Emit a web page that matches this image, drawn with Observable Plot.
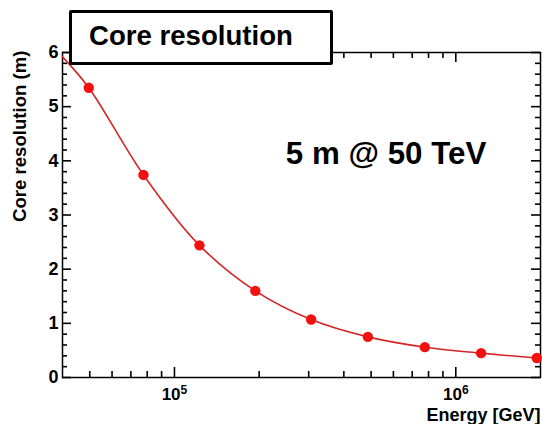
<!DOCTYPE html>
<html>
<head>
<meta charset="utf-8">
<script src="https://cdn.jsdelivr.net/npm/d3@7"></script>
<script src="https://cdn.jsdelivr.net/npm/@observablehq/plot@0.6"></script>
<style>
  body { margin: 0; background: #fff; }
  #wrap { position: relative; width: 542px; height: 424px; font-family: "Liberation Sans", Arial, Helvetica, sans-serif; }
  #title {
    position: absolute; left: 69px; top: 10px; width: 241px; height: 49px;
    padding-left: 17px; border: 3px solid #000; border-radius: 2px; background: #fff;
    font-weight: bold; font-size: 27.6px; line-height: 45px; color: #000; white-space: nowrap;
  }
</style>
</head>
<body>
<div id="wrap">
  <div id="chart"></div>
  <div id="title">Core resolution</div>
</div>
<script>
// Reconstructed shower core resolution versus primary energy
const energy = [49600, 77600, 122700, 193800, 306000, 487000, 776000, 1230000, 1940000];
const resolution = [5.35, 3.74, 2.44, 1.60, 1.07, 0.75, 0.56, 0.45, 0.36];

// Smooth curve through the points, starting at the low-energy edge
const curveEnergy = [40000, ...energy];
const curveResolution = [5.92, ...resolution];

// Axis ranges and ticks
const xRange = [40000, 2000000];
const yRange = [0, 6];
const yMajor = [0, 1, 2, 3, 4, 5, 6];
const yLabels = ["0", "1", "2", "3", "4", "5", "6"];
const yMinor = d3.range(0, 6.001, 0.2).filter(v => Math.abs(v - Math.round(v)) > 1e-6);
const xMajor = [1e5, 1e6];
const xLabelBase = "10";
const xLabelExp = ["5", "6"];
const xMinor = [5e4, 6e4, 7e4, 8e4, 9e4, 2e5, 3e5, 4e5, 5e5, 6e5, 7e5, 8e5, 9e5];

const annotation = "5 m @ 50 TeV";
const xTitle = "Energy [GeV]";
const yTitle = "Core resolution (m)";

const points = energy.map((e, i) => ({energy: e, resolution: resolution[i]}));
const curve = curveEnergy.map((e, i) => ({energy: e, resolution: curveResolution[i]}));

const font = '"Liberation Sans", Arial, Helvetica, sans-serif';
const tickStyle = {stroke: "black", strokeWidth: 1.6};

// inward tick marks: zero-length rules on a frame edge, stretched by an inset
const ticksBottom = (values, len) => Plot.ruleX(values, {x: d => d, y1: yRange[0], y2: yRange[0], insetBottom: len, ...tickStyle});
const ticksTop = (values, len) => Plot.ruleX(values, {x: d => d, y1: yRange[1], y2: yRange[1], insetTop: len, ...tickStyle});
const ticksLeft = (values, len) => Plot.ruleY(values, {y: d => d, x1: xRange[0], x2: xRange[0], insetLeft: len, ...tickStyle});
const ticksRight = (values, len) => Plot.ruleY(values, {y: d => d, x1: xRange[1], x2: xRange[1], insetRight: len, ...tickStyle});

const chart = Plot.plot({
  width: 542,
  height: 424,
  marginLeft: 62,
  marginRight: 2,
  marginTop: 52,
  marginBottom: 47,
  style: {fontFamily: font, background: "white", color: "black", overflow: "visible"},
  x: {type: "log", domain: xRange},
  y: {domain: yRange},
  marks: [
    Plot.frame({stroke: "black", strokeWidth: 1.5}),
    ticksBottom(xMajor, 10), ticksBottom(xMinor, 6),
    ticksTop(xMajor, 10), ticksTop(xMinor, 6),
    ticksLeft(yMajor, 9), ticksLeft(yMinor, 5),
    ticksRight(yMajor, 9), ticksRight(yMinor, 5),
    // tick labels
    Plot.axisX({anchor: "bottom", ticks: xMajor, tickSize: 0, tickPadding: 10, label: null,
      tickFormat: d => xLabelBase + "^" + xLabelExp[xMajor.indexOf(d)], fontSize: 17, fontWeight: "bold"}),
    Plot.axisY({anchor: "left", ticks: yMajor, tickSize: 0, tickPadding: 4, label: null,
      tickFormat: d => yLabels[yMajor.indexOf(d)], fontSize: 18, fontWeight: "bold"}),
    // axis titles
    Plot.text([yTitle], {frameAnchor: "top-left", rotate: -90, textAnchor: "end", lineAnchor: "middle",
      dx: -42, dy: -2, fontSize: 18.6, fontWeight: "bold"}),
    Plot.text([xTitle], {frameAnchor: "bottom-right", textAnchor: "end", lineAnchor: "bottom",
      dy: 43, fontSize: 18, fontWeight: "bold"}),
    // data
    Plot.line(curve, {x: "energy", y: "resolution", curve: "catmull-rom", stroke: "#d42424", strokeWidth: 1.6}),
    Plot.dot(points, {x: "energy", y: "resolution", r: 5.2, fill: "#f51010", stroke: "none"}),
    Plot.text([annotation], {x: 565000, y: 3.94, textAnchor: "middle", lineAnchor: "bottom",
      fontSize: 31.3, fontWeight: "bold"})
  ]
});

// render the decade exponents as superscripts
d3.select(chart).selectAll("text").each(function () {
  const t = this.textContent;
  if (!/^10\^\d$/.test(t)) return;
  const [base, exp] = t.split("^");
  const sel = d3.select(this).text(null);
  sel.append("tspan").text(base);
  sel.append("tspan").attr("dy", "-0.5em").attr("font-size", "12px").text(exp);
});

document.getElementById("chart").append(chart);
</script>
</body>
</html>
